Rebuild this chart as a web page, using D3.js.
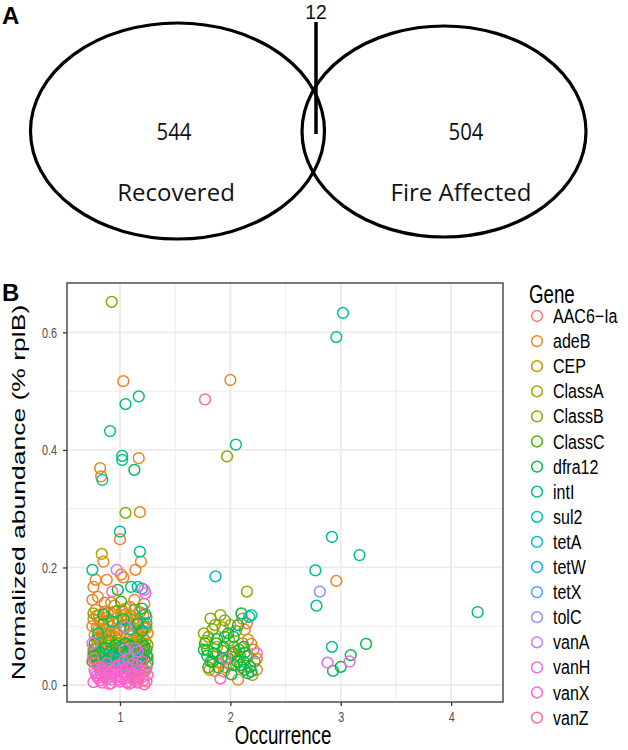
<!DOCTYPE html>
<html><head><meta charset="utf-8">
<script src="https://cdn.jsdelivr.net/npm/d3@7"></script>
<style>body{margin:0;background:#fff}svg{display:block}</style>
</head><body><svg id="c" width="628" height="750"></svg>
<script>
// ---------- Panel A data ----------
const vennSets = ["Recovered", "Fire Affected"];
const vennCounts = [544, 504];
const vennOverlap = 12;

// ---------- Panel B data ----------
const genes = ["AAC6\u2212Ia","adeB","CEP","ClassA","ClassB","ClassC","dfra12","intI","sul2","tetA","tetW","tetX","tolC","vanA","vanH","vanX","vanZ"];
const geneColors = ["#F8766D","#E88526","#CF9400","#B2A100","#88AB00","#43B500","#00BB4E","#00C087","#00C0B2","#00BDD6","#00B2F3","#4BA1FF","#9590FF","#D078FA","#F066E8","#FF63C6","#FE6A9A"];
const occTicks = [1, 2, 3, 4];
const occMinor = [1.5, 2.5, 3.5];
const abundTicks = [0, 0.2, 0.4, 0.6];
const abundMinor = [0.1, 0.3, 0.5];

// [occurrence (jittered), normalized abundance]
const AAC6Ia = [[0.86,0.015],[1.09,0.035],[1.21,0.008]];
const adeB = [[1.03,0.517],[1.17,0.386],[0.82,0.369],[0.83,0.355],[1.18,0.294],[1.00,0.248],[1.19,0.21],[0.85,0.21],[1.14,0.196],[1.01,0.188],[0.78,0.179],[0.88,0.179],[1.03,0.183],[0.76,0.167],[0.75,0.145],[1.09,0.133],[1.05,0.13],
  [0.95,0.135],[0.86,0.140],[1.13,0.145],[1.22,0.138],[0.80,0.150],
  [0.78,0.128],[0.86,0.125],[0.93,0.121],[1.02,0.127],[1.10,0.118],[1.18,0.124],[1.24,0.115],
  [0.81,0.118],[0.89,0.122],[0.97,0.114],[1.05,0.120],[1.13,0.113],[1.21,0.119],
  [0.76,0.112],[0.82,0.108],[0.90,0.110],[0.98,0.105],[1.06,0.109],[1.14,0.102],[1.21,0.106],
  [0.75,0.100],[0.84,0.096],[0.91,0.089],[1.00,0.094],[1.09,0.103],[1.17,0.091],[1.24,0.097],
  [0.79,0.098],[0.87,0.095],[0.95,0.092],[1.04,0.097],[1.12,0.090],[1.19,0.094],[1.25,0.088],
  [0.77,0.085],[0.84,0.082],[0.92,0.079],[1.00,0.084],[1.08,0.077],[1.16,0.081],[1.23,0.075],
  [0.79,0.078],[0.87,0.074],[0.96,0.081],[1.03,0.070],[1.11,0.076],[1.19,0.073],
  [0.80,0.070],[0.89,0.067],[0.97,0.072],[1.05,0.064],[1.13,0.069],[1.20,0.062],
  [0.78,0.060],[0.93,0.062],[1.09,0.058],[1.22,0.058],[0.98,0.048],[0.82,0.046],
  [0.76,0.055],[0.85,0.052],[0.94,0.058],[1.02,0.049],[1.11,0.054],[1.24,0.050],
  [0.81,0.040],[1.07,0.038],[1.18,0.042],[0.90,0.030],[1.15,0.028],
  [2.00,0.519],[2.11,0.113],[2.15,0.105],[2.13,0.094],[2.16,0.077],[2.21,0.060],[1.87,0.051],[2.24,0.045],[1.90,0.037],[1.99,0.035],[2.10,0.030],[1.81,0.026],[1.94,0.023],[2.24,0.026],[2.07,0.009],
  [2.96,0.177]];
const CEP = [[0.79,0.118],[0.91,0.100],[1.07,0.112],[1.22,0.097],[0.84,0.088],[0.99,0.076],[1.15,0.065],[0.77,0.062],[0.96,0.045],[1.20,0.035],[0.87,0.020],
  [2.05,0.058],[2.19,0.070],[1.96,0.030],[1.86,0.024],[2.20,0.017]];
const ClassA = [[0.835,0.223],[0.92,0.14],[0.88,0.115],[1.01,0.118],[1.17,0.110],[0.80,0.093],[0.97,0.088],[1.10,0.083],[1.21,0.080],[0.83,0.072],[0.93,0.065],[1.06,0.058],[1.19,0.055],[0.78,0.048],[1.00,0.040],[1.14,0.035],[0.88,0.026],
  [2.00,0.102],[1.93,0.098],[2.11,0.071],[1.88,0.065],[2.02,0.052]];
const ClassB = [[0.925,0.652],[1.05,0.293],[0.76,0.122],[0.95,0.125],[1.13,0.128],[0.85,0.104],[1.03,0.100],[1.23,0.099],[0.81,0.079],[0.90,0.085],[1.08,0.070],[1.18,0.066],[0.76,0.060],[0.99,0.056],[1.12,0.046],[0.84,0.038],[1.04,0.030],[1.22,0.025],
  [0.83,0.064],[0.97,0.061],[1.15,0.079],[1.25,0.068],[0.88,0.052],[1.06,0.042],[1.20,0.045],
  [1.97,0.389],[2.15,0.159],[1.91,0.119],[1.82,0.113],[1.86,0.102],[1.84,0.095],[2.05,0.092],[1.76,0.088],[1.99,0.076],[1.78,0.075],[2.03,0.065],[1.80,0.082],[1.95,0.110],[2.09,0.048]];
const ClassC = [[0.78,0.050],[0.86,0.045],[0.95,0.052],[1.03,0.043],[1.11,0.048],[1.19,0.040],[0.80,0.035],[0.91,0.038],[1.00,0.033],[1.09,0.030],[1.17,0.036],[1.24,0.031],[0.83,0.028],[0.97,0.025],[1.14,0.022],[1.01,0.142],[0.90,0.075],[1.20,0.070],
  [0.75,0.040],[0.85,0.036],[0.93,0.030],[1.06,0.036],[1.13,0.028],[1.22,0.045],[0.88,0.042],[1.04,0.050],[1.25,0.048],[0.81,0.056],[0.99,0.046],[1.16,0.052],
  [1.77,0.071],[1.87,0.071],[1.79,0.060],[2.02,0.055],[1.93,0.058],[1.95,0.082],[2.08,0.060],[2.16,0.050],[1.84,0.040],[1.80,0.030],[2.09,0.034],[1.98,0.045],[2.22,0.040]];
const dfra12 = [[1.20,0.13],[0.98,0.162],[1.13,0.366],[0.77,0.070],[0.87,0.063],[0.96,0.068],[1.05,0.071],[1.14,0.060],[1.22,0.066],[0.82,0.055],[0.93,0.048],[1.02,0.060],[1.11,0.040],[1.21,0.052],[0.79,0.042],[0.89,0.033],[1.07,0.026],[1.25,0.038],[1.03,0.112],[1.16,0.104],[0.85,0.120],[1.20,0.092],
  [0.76,0.050],[0.91,0.056],[1.00,0.064],[1.09,0.066],[1.18,0.047],[0.84,0.033],[0.97,0.038],[1.13,0.032],[1.24,0.060],
  [2.10,0.122],[2.07,0.102],[1.98,0.088],[2.03,0.082],[1.88,0.078],[2.12,0.065],[2.13,0.055],[1.76,0.060],[1.82,0.040],[1.92,0.045],[2.06,0.040],[2.03,0.034],[2.12,0.040],[1.89,0.030],[2.18,0.031],[2.13,0.026],[2.19,0.023],[2.16,0.020],[2.01,0.018],[1.85,0.054],[1.94,0.064],[1.79,0.050],
  [2.93,0.024],[3.00,0.031],[3.09,0.051],[3.23,0.070]];
const intI = [[1.17,0.491],[1.05,0.478],[0.91,0.432],[1.02,0.390],[1.02,0.383],[1.00,0.261],[1.18,0.227],[0.75,0.196],[1.10,0.167],[1.16,0.167],[1.20,0.164],[0.93,0.108],[1.09,0.095],[0.80,0.088],[1.23,0.120],
  [2.05,0.409],[2.17,0.116],
  [3.02,0.633],[2.96,0.592],[2.92,0.252],[3.17,0.221],[2.77,0.195],[2.78,0.135],[2.92,0.065],[4.24,0.124]];
const sul2 = [[0.84,0.349],[1.24,0.105],[0.88,0.050],[1.15,0.045],[2.19,0.119]];
const tetA = [[1.865,0.185],[0.96,0.043],[1.06,0.032],[0.82,0.025]];
const tetW = [[1.00,0.038],[1.12,0.020],[0.90,0.015]];
const tetX = [[0.94,0.028],[1.17,0.012]];
const tolC = [[2.81,0.159],[1.08,0.045]];
const vanA = [[0.97,0.196],[1.05,0.099],[1.04,0.060],[1.16,0.057],[0.90,0.020],[1.10,0.015]];
const vanH = [[1.22,0.162],[1.23,0.156],[0.75,0.071],[1.14,0.062],[0.83,0.018],[1.02,0.012],[1.18,0.025],[0.92,0.009],[1.10,0.004],[0.77,0.026],[1.05,0.022],
  [1.96,0.045],[2.88,0.038],[3.08,0.040]];
const vanX = [[0.76,0.005],[0.80,0.012],[0.84,0.004],[0.88,0.010],[0.92,0.003],[0.96,0.014],[1.00,0.006],[1.04,0.011],[1.08,0.002],[1.12,0.009],[1.16,0.004],[1.20,0.013],[1.24,0.006],
  [0.82,0.008],[0.90,0.002],[0.98,0.009],[1.06,0.005],[1.14,0.012],[1.22,0.001],
  [0.78,0.020],[0.86,0.024],[0.94,0.019],[1.02,0.026],[1.10,0.021],[1.18,0.018],[1.23,0.025],
  [0.79,0.016],[0.87,0.017],[0.95,0.024],[1.05,0.018],[1.13,0.025],[1.25,0.017],
  [0.81,0.031],[0.99,0.034],[1.07,0.030],[1.15,0.033],[0.90,0.028],[1.20,0.040],[0.77,0.038],
  [0.84,0.030],[0.96,0.031],[1.11,0.036],[1.24,0.032],[1.03,0.040],[0.88,0.037],
  [2.24,0.054],[1.91,0.011]];
const vanZ = [[1.77,0.486],[0.93,0.159],[0.76,0.045],[1.14,0.007]];

const geneData = [AAC6Ia, adeB, CEP, ClassA, ClassB, ClassC, dfra12, intI, sul2, tetA, tetW, tetX, tolC, vanA, vanH, vanX, vanZ];

// ---------- drawing ----------
const svg = d3.select("#c");
const fontA = "'Open Sans', 'Noto Sans', sans-serif";
const fontB = "'Liberation Sans', Arial, Helvetica, sans-serif";
const SQB = 0.72; // horizontal squeeze of panel B typography

// Panel labels
svg.append("text").attr("x", 2).attr("y", 24).text("A")
  .attr("font-family", fontB).attr("font-weight", "bold").attr("font-size", 24);
svg.append("text").attr("x", 2).attr("y", 301).text("B")
  .attr("font-family", fontB).attr("font-weight", "bold").attr("font-size", 24);

// Panel A: Venn
const gA = svg.append("g");
const ell = [{cx: 177.5, cy: 131, rx: 147, ry: 108}, {cx: 444, cy: 131.5, rx: 142, ry: 105.5}];
gA.selectAll("ellipse").data(ell).join("ellipse")
  .attr("cx", d => d.cx).attr("cy", d => d.cy).attr("rx", d => d.rx).attr("ry", d => d.ry)
  .attr("fill", "none").attr("stroke", "#000").attr("stroke-width", 3.2);
gA.append("line").attr("x1", 316).attr("x2", 316).attr("y1", 22).attr("y2", 134)
  .attr("stroke", "#000").attr("stroke-width", 3.5);
function sqText(g, x, y, str, size, sq, fam) {
  g.append("text").attr("transform", `translate(${x},${y}) scale(${sq},1)`)
    .attr("text-anchor", "middle").attr("font-family", fam || fontA).attr("font-size", size)
    .attr("fill", "#111").text(str);
}
sqText(gA, 316, 19, String(vennOverlap), 20.5, 0.95, fontB);
sqText(gA, 174, 140, String(vennCounts[0]), 24, 0.85);
sqText(gA, 466, 140, String(vennCounts[1]), 24, 0.85);
sqText(gA, 176, 201, vennSets[0], 24, 1.0);
sqText(gA, 461, 201, vennSets[1], 24, 1.0);

// Panel B: scatter
const L = 67, R = 503, T = 283, B = 702;
const x = d3.scaleLinear().domain([0.52, 4.47]).range([L, R]);
const y = d3.scaleLinear().domain([-0.0289, 0.684]).range([B, T]);
const gB = svg.append("g");
gB.append("rect").attr("x", L).attr("y", T).attr("width", R - L).attr("height", B - T).attr("fill", "#fff");
gB.selectAll(".gmx").data(occMinor).join("line").attr("x1", d => x(d)).attr("x2", d => x(d)).attr("y1", T).attr("y2", B)
  .attr("stroke", "#EBEBEB").attr("stroke-width", 0.9);
gB.selectAll(".gmy").data(abundMinor).join("line").attr("y1", d => y(d)).attr("y2", d => y(d)).attr("x1", L).attr("x2", R)
  .attr("stroke", "#EBEBEB").attr("stroke-width", 0.9);
gB.selectAll(".gMx").data(occTicks).join("line").attr("x1", d => x(d)).attr("x2", d => x(d)).attr("y1", T).attr("y2", B)
  .attr("stroke", "#EBEBEB").attr("stroke-width", 1.8);
gB.selectAll(".gMy").data(abundTicks).join("line").attr("y1", d => y(d)).attr("y2", d => y(d)).attr("x1", L).attr("x2", R)
  .attr("stroke", "#EBEBEB").attr("stroke-width", 1.8);

geneData.forEach((arr, i) => {
  gB.append("g").selectAll("circle").data(arr).join("circle")
    .attr("cx", d => x(d[0])).attr("cy", d => y(d[1])).attr("r", 5.4)
    .attr("fill", "none").attr("stroke", geneColors[i]).attr("stroke-width", 1.5);
});

gB.append("rect").attr("x", L).attr("y", T).attr("width", R - L).attr("height", B - T)
  .attr("fill", "none").attr("stroke", "#333").attr("stroke-width", 1.3);

// axes
const ax = gB.append("g").attr("transform", `translate(0,${B})`)
  .call(d3.axisBottom(x).tickValues(occTicks).tickFormat(d3.format("d")).tickSize(4).tickPadding(5));
const ay = gB.append("g").attr("transform", `translate(${L},0)`)
  .call(d3.axisLeft(y).tickValues(abundTicks).tickFormat(d3.format(".1f")).tickSize(4).tickPadding(5));
[ax, ay].forEach(a => {
  a.select(".domain").remove();
  a.selectAll(".tick line").attr("stroke", "#333").attr("stroke-width", 1.3);
  a.selectAll(".tick text").attr("fill", "#4D4D4D").attr("font-family", fontB).attr("font-size", 15);
});
ax.selectAll(".tick text").attr("transform", `scale(${SQB},1)`);
ay.selectAll(".tick text").each(function () {
  const t = d3.select(this), tx = +t.attr("x");
  t.attr("x", 0).attr("transform", `translate(${tx - 1},0) scale(${SQB},1)`);
});

gB.append("text").attr("transform", `translate(${(L + R) / 2 - 2},744) scale(${SQB},1)`).attr("text-anchor", "middle")
  .attr("font-family", fontB).attr("font-size", 26).text("Occurrence");
gB.append("text").attr("transform", `translate(25,${(T + B) / 2}) rotate(-90) scale(1,${SQB})`).attr("text-anchor", "middle")
  .attr("font-family", fontB).attr("font-size", 26.5).text("Normalized abundance (% rplB)");

// legend
const lg = svg.append("g");
lg.append("text").attr("transform", `translate(529,303) scale(${SQB},1)`).attr("font-family", fontB).attr("font-size", 26).text("Gene");
const items = lg.selectAll("g.it").data(genes).join("g").attr("class", "it")
  .attr("transform", (d, i) => `translate(0,${316 + i * 25.1})`);
items.append("circle").attr("cx", 537).attr("cy", 0).attr("r", 5.4).attr("fill", "none")
  .attr("stroke", (d, i) => geneColors[i]).attr("stroke-width", 1.5);
items.append("text").attr("transform", `translate(553,0) scale(0.8,1)`).attr("dy", "0.35em").attr("font-family", fontB)
  .attr("font-size", 20).text(d => d);
</script></body></html>
